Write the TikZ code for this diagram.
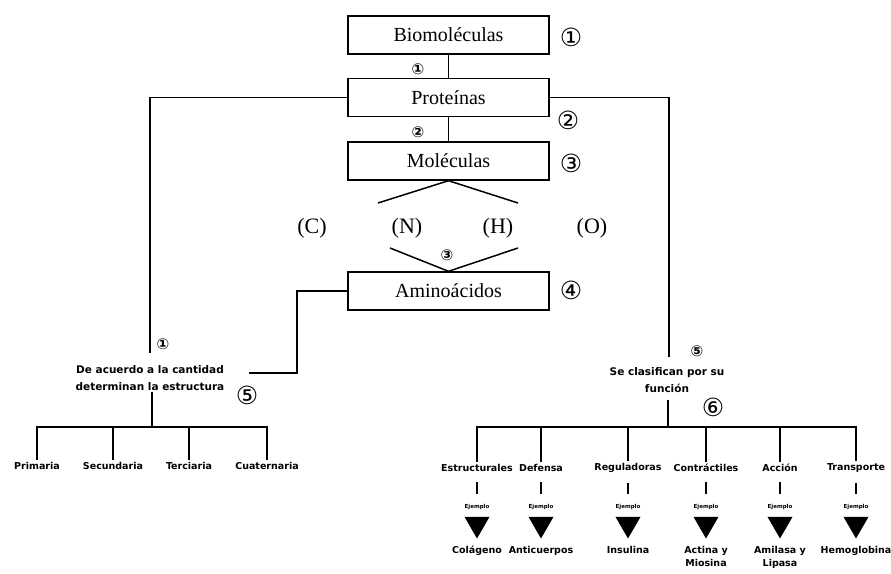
\documentclass[tikz,border=0pt]{standalone}
\usepackage{fontspec}
\setmainfont{Liberation Serif}
\newfontfamily\dejavu{DejaVu Sans}
\newfontfamily\lowfont{DejaVu Sans}
\usetikzlibrary{shapes.geometric}
\tikzset{
  box/.style={draw, line width=1.4pt, minimum width=201pt, minimum height=38pt, inner sep=0pt, font=\fontsize{20}{22}\selectfont},
  num/.style={font=\dejavu\fontsize{25}{25}\selectfont, inner sep=0pt},
  snum/.style={font=\dejavu\bfseries\fontsize{15}{15}\selectfont, inner sep=0pt},
  elem/.style={font=\fontsize{22}{24}\selectfont, inner sep=0pt},
  lbl/.style={font=\lowfont\bfseries\fontsize{9.5}{13}\selectfont, inner sep=2pt, align=center},
  big/.style={font=\lowfont\bfseries\fontsize{10.5}{17}\selectfont, inner sep=1pt, align=center},
  ej/.style={font=\lowfont\bfseries\fontsize{5.5}{6}\selectfont, inner sep=1pt},
  tri/.style={regular polygon, regular polygon sides=3, shape border rotate=180, fill=black, minimum size=29pt, inner sep=0pt},
  ln/.style={line width=1.5pt}
}
\begin{document}
\begin{tikzpicture}[x=1pt,y=-1pt]
\useasboundingbox (0,0) rectangle (891,573);
% main boxes
\node[box] (bio) at (448.5,35) {Biomoléculas};
\node[box] (prot) at (448.5,97.5) {Proteínas};
\node[box] (mol) at (448.5,161) {Moléculas};
\node[box] (amino) at (448.5,291) {Aminoácidos};
% circled numbers
\node[num] (n1) at (571,37) {①};
\node[num] (n2) at (568,120) {②};
\node[num] (n3) at (571,163) {③};
\node[num] (n4) at (571,290) {④};
\node[num] (n5) at (247,395) {⑤};
\node[num] (n6) at (713,407) {⑥};
\node[snum] (s1) at (418,69) {①};
\node[snum] (s2) at (418,132) {②};
\node[snum] (s3) at (447,255) {③};
\node[snum] (s4) at (163,344) {①};
\node[snum] (s5) at (697,351) {⑤};
% elements
\node[elem] (C) at (312,228) {(C)};
\node[elem] (N) at (407,228) {(N)};
\node[elem] (H) at (498,228) {(H)};
\node[elem] (O) at (592,228) {(O)};
% coordinates
\coordinate (mL) at (378,203);
\coordinate (mR) at (518,203);
\coordinate (aL) at (390,248);
\coordinate (aR) at (518,248);
\coordinate (pl) at (150,97.5);
\coordinate (pr) at (669,97.5);
\coordinate (lend) at (150,353);
\coordinate (rend) at (669,357);
\coordinate (am1) at (297,291);
\coordinate (am2) at (297,373);
\coordinate (am3) at (249,373);
% connectors top
\draw[ln] (bio) -- (prot);
\draw[ln] (prot) -- (mol);
\draw[ln] (prot.west) -- (pl) -- (lend);
\draw[ln] (prot.east) -- (pr) -- (rend);
\draw[ln] (mL) -- (mol.south) -- (mR);
\draw[ln] (aL) -- (amino.north) -- (aR);
\draw[ln] (amino.west) -- (am1) -- (am2) -- (am3);
% left branch
\node[big] (lt) at (150,378) {De acuerdo a la cantidad\\determinan la estructura};
\coordinate (lj) at (152,427);
\node[lbl] (l1) at (37,466) {Primaria};
\node[lbl] (l2) at (113,466) {Secundaria};
\node[lbl] (l3) at (189,466) {Terciaria};
\node[lbl] (l4) at (267,466) {Cuaternaria};
\draw[ln] (lt.south -| lj) -- (lj);
\draw[ln] (l1.north) |- (lj) -| (l4.north);
\draw[ln] (l2.north) -- (l2.north |- lj);
\draw[ln] (l3.north) -- (l3.north |- lj);
% right branch
\node[big] (rt) at (667,380) {Se clasifican por su\\función};
\coordinate (rj) at (668,427);
\node[lbl] (r1) at (477,468) {Estructurales};
\node[lbl] (r2) at (541,468) {Defensa};
\node[lbl] (r3) at (628,468) {Reguladoras};
\node[lbl] (r4) at (706,468) {Contráctiles};
\node[lbl] (r5) at (780,468) {Acción};
\node[lbl] (r6) at (856,468) {Transporte};
\draw[ln] (rj |- rt.south) ++(0,6) -- (rj);
\draw[ln] (r1.north) |- (rj) -| (r6.north);
\foreach \r in {r2,r3,r4,r5} \draw[ln] (\r.north) -- (\r.north |- rj);
% examples
\foreach \r/\x/\t in {1/477/Colágeno,2/541/Anticuerpos,3/628/Insulina,4/706/{Actina y\\Miosina},5/780/{Amilasa y\\Lipasa},6/856/Hemoglobina}{
  \node[ej] (e\r) at (\x,507) {Ejemplo};
  \node[tri] (t\r) at (\x,524) {};
  \node[lbl, anchor=north] (x\r) at (\x,544) {\t};
  \draw[ln] ([yshift=-8pt]r\r.south) -- ([yshift=9pt]e\r.north);
}
\end{tikzpicture}
\end{document}
